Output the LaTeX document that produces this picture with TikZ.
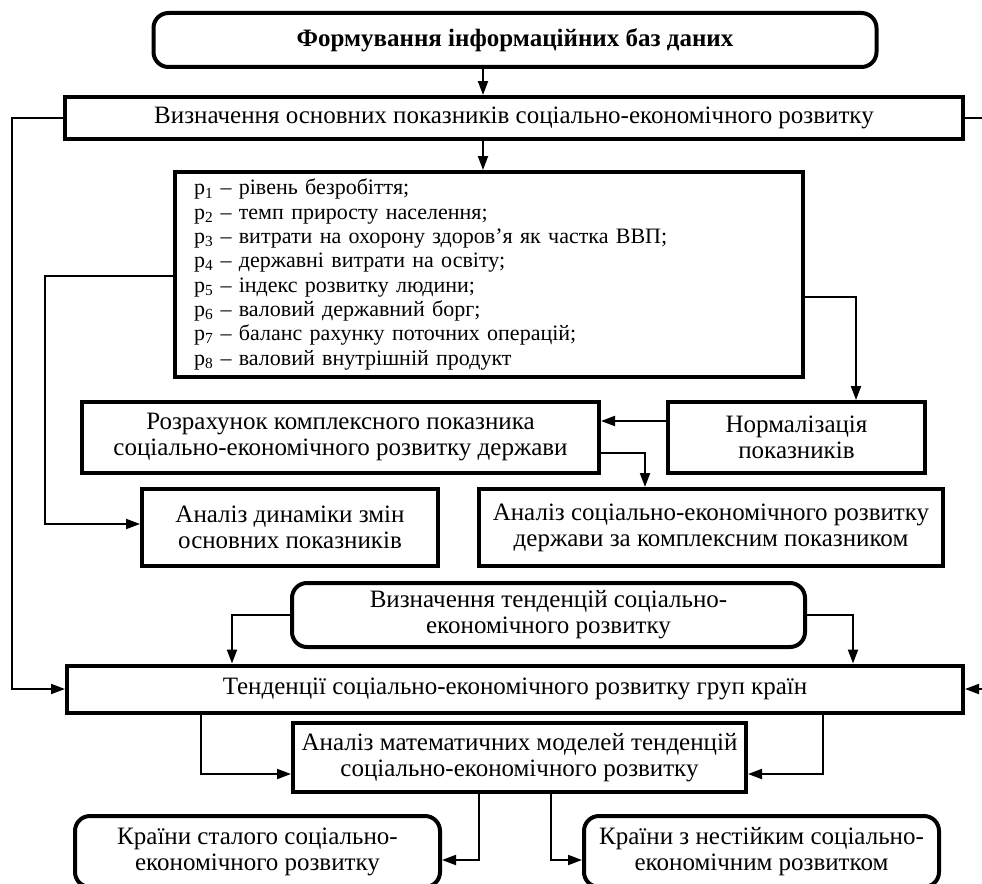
\documentclass[tikz,border=0pt]{standalone}
\usepackage{fontspec}
\setmainfont{Liberation Serif}
\usetikzlibrary{arrows.meta}

\begin{document}
\begin{tikzpicture}[x=1pt,y=-1pt,>={Triangle[length=14pt,width=10pt]},line join=miter,
  every node/.style={font=\fontsize{25}{26}\selectfont},
  block/.style={draw,line width=4pt,inner sep=0pt,align=center},
  rblock/.style={block,rounded corners=15pt},
  link/.style={line width=2pt,->}]
\useasboundingbox (0,0) rectangle (982,883);
\coordinate (redge) at (984,0);
%%
  % Node: form
  \node[rblock,minimum width=723pt,minimum height=54pt] (form) at (515,40) {\textbf{Формування інформаційних баз даних}};
  % Node: indic
  \node[block,minimum width=898pt,minimum height=42pt] (indic) at (514,118) {Визначення основних показників соціально-економічного розвитку};
  % Node: plist
  \node[block,minimum width=628pt,minimum height=205pt,text width=590pt,align=left,
        font=\fontsize{22}{24.3}\selectfont] (plist) at (489,274.5) {%
    p\textsubscript{1} – рівень безробіття;\\
    p\textsubscript{2} – темп приросту населення;\\
    p\textsubscript{3} – витрати на охорону здоров’я як частка ВВП;\\
    p\textsubscript{4} – державні витрати на освіту;\\
    p\textsubscript{5} – індекс розвитку людини;\\
    p\textsubscript{6} – валовий державний борг;\\
    p\textsubscript{7} – баланс рахунку поточних операцій;\\
    p\textsubscript{8} – валовий внутрішній продукт};
  % Node: rozr
  \node[block,minimum width=517pt,minimum height=71pt] (rozr) at (340.5,437.5) {Розрахунок комплексного показника\\соціально-економічного розвитку держави};
  % Node: norm
  \node[block,minimum width=257pt,minimum height=71pt] (norm) at (796.5,437.5) {Нормалізація\\показників};
  % Node: dyn
  \node[block,minimum width=296pt,minimum height=77pt] (dyn) at (290,527.5) {Аналіз динаміки змін\\основних показників};
  % Node: cmplx
  \node[block,minimum width=464pt,minimum height=77pt] (cmplx) at (711,527.5) {Аналіз соціально-економічного розвитку\\держави за комплексним показником};
  % Node: trend
  \node[rblock,minimum width=513pt,minimum height=64pt] (trend) at (548.5,615) {Визначення тенденцій соціально-\\економічного розвитку};
  % Node: groups
  \node[block,minimum width=896pt,minimum height=47pt] (groups) at (515,689) {Тенденції соціально-економічного розвитку груп країн};
  % Node: models
  \node[block,minimum width=453pt,minimum height=69pt] (models) at (519.5,757.5) {Аналіз математичних моделей тенденцій\\соціально-економічного розвитку};
  % Node: stable
  \node[rblock,minimum width=365pt,minimum height=71pt] (stable) at (257.5,851.5) {Країни сталого соціально-\\економічного розвитку};
  % Node: unstable
  \node[rblock,minimum width=355pt,minimum height=71pt] (unstable) at (761.5,851.5) {Країни з нестійким соціально-\\економічним розвитком};
%%
  % Edge: form -> indic
  \draw[link] (483,0 |- form.south) -- (483,0 |- indic.north);
  % Edge: indic -> groups (left)
  \draw[link] (indic.west) -- (12,0 |- indic.west) |- (groups.west);
  % Edge: indic -> right edge
  \draw[line width=2pt] (indic.east) -- (indic.east -| redge);
  % Edge: right edge -> groups
  \draw[link] (groups.east -| redge) -- (groups.east);
  % Edge: indic -> plist
  \draw[link] (483,0 |- indic.south) -- (483,0 |- plist.north);
  % Edge: plist -> dyn
  \draw[link] (plist.west |- 0,276) -- (45,276) |- (dyn.west |- 0,524);
  % Edge: plist -> norm
  \draw[link] (plist.east |- 0,297) -| (856,0 |- norm.north);
  % Edge: norm -> rozr
  \draw[link] (norm.west |- 0,421) -- (rozr.east |- 0,421);
  % Edge: rozr -> cmplx
  \draw[link] (rozr.east |- 0,453) -| (645,0 |- cmplx.north);
  % Edge: trend -> groups
  \draw[link] (trend.west) -| (232,0 |- groups.north);
  \draw[link] (trend.east) -| (853,0 |- groups.north);
  % Edge: groups -> models
  \draw[link] (201,0 |- groups.south) |- (models.west |- 0,774);
  \draw[link] (823,0 |- groups.south) |- (models.east |- 0,774);
  % Edge: models -> stable
  \draw[link] (479,0 |- models.south) |- (stable.east |- 0,860);
  % Edge: models -> unstable
  \draw[link] (551,0 |- models.south) |- (unstable.west |- 0,860);
%
\end{tikzpicture}
\end{document}
